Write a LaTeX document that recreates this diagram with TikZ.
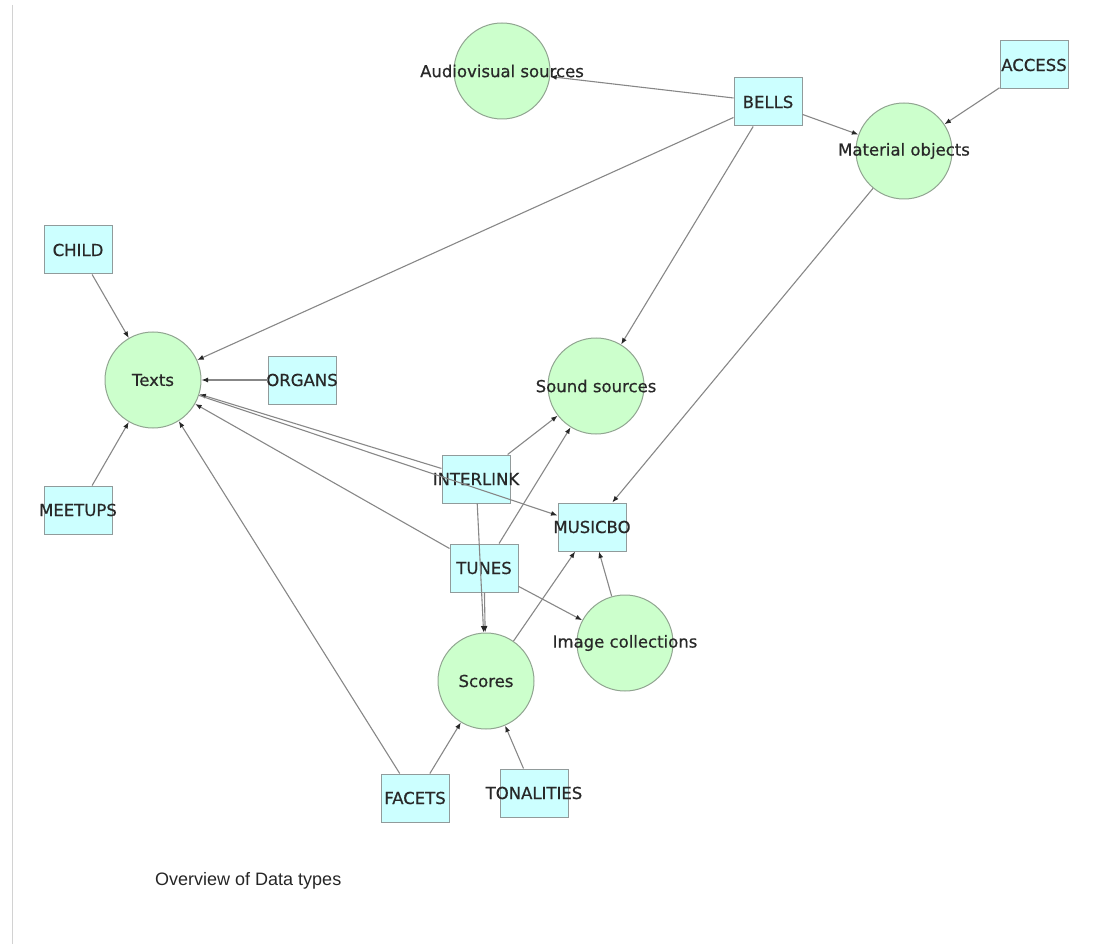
\documentclass[tikz,border=0pt]{standalone}
\usepackage{fontspec}
\setmainfont{DejaVu Sans}[FakeBold=0.6]
\newfontfamily\labfont{DejaVu Sans}[FakeBold=0.6]
\newfontfamily\captfont{Liberation Sans}
\usetikzlibrary{arrows.meta}
\definecolor{cfill}{RGB}{204,255,204}
\definecolor{cdraw}{RGB}{145,165,145}
\definecolor{rfill}{RGB}{204,255,255}
\definecolor{rdraw}{RGB}{145,155,155}
\definecolor{edgecol}{RGB}{135,135,135}
\definecolor{headcol}{RGB}{40,40,40}
\definecolor{txtcol}{RGB}{40,40,40}
\definecolor{bordercol}{RGB}{210,210,210}
\tikzset{
  dtype/.style={circle, minimum size=96pt, inner sep=0pt, fill=cfill, draw=cdraw, line width=1pt},
  dset/.style={rectangle, minimum width=68pt, minimum height=48pt, inner sep=0pt, fill=rfill, draw=rdraw, line width=1pt},
  lab/.style={text=txtcol, font=\labfont\fontsize{16.5}{19}\selectfont, inner sep=0pt},
  every label/.style={lab},
  link/.style={draw=edgecol, line width=1.1pt, -{Latex[length=6.5pt,width=5pt,fill=headcol,color=headcol]}},
}
\begin{document}
\begin{tikzpicture}[x=1pt,y=-1pt]
\useasboundingbox (0,0) rectangle (1110,949);
\draw[bordercol, line width=1pt] (12,5) -- (12,944);
% data types (circles)
\node[dtype, label={center:Audiovisual sources}] (av) at (502,71) {};
\node[dtype, label={center:Material objects}] (mo) at (904,151) {};
\node[dtype, label={center:Texts}] (tx) at (153,380) {};
\node[dtype, label={center:Sound sources}] (ss) at (596,386) {};
\node[dtype, label={center:Image collections}] (ic) at (625,643) {};
\node[dtype, label={center:Scores}] (sc) at (486,681) {};
% data sets (rectangles)
\node[dset, label={center:BELLS}] (bells) at (768,102) {};
\node[dset, label={center:ACCESS}] (access) at (1034,65) {};
\node[dset, label={center:CHILD}] (child) at (78,250) {};
\node[dset, label={center:ORGANS}] (organs) at (302,380) {};
\node[dset, label={center:MEETUPS}] (meetups) at (78,510) {};
\node[dset, label={center:INTERLINK}] (interlink) at (476,479) {};
\node[dset, label={center:MUSICBO}] (musicbo) at (592,527) {};
\node[dset, label={center:TUNES}] (tunes) at (484,568) {};
\node[dset, label={center:FACETS}] (facets) at (415,798) {};
\node[dset, label={center:TONALITIES}] (tonal) at (534,793) {};
% connectors
\path[link] (bells) -- (av);
\path[link] (bells) -- (mo);
\path[link] (bells) -- (tx);
\path[link] (bells) -- (ss);
\path[link] (access) -- (mo);
\path[link] (mo) -- (musicbo);
\path[link] (child) -- (tx);
\path[link] (organs) -- (tx);
\path[link] (meetups) -- (tx);
\path[link] (interlink) -- (tx);
\path[link] (tx) -- (musicbo);
\path[link] (tunes) -- (tx);
\path[link] (facets) -- (tx);
\path[link] (facets) -- (sc);
\path[link] (tonal) -- (sc);
\path[link] (interlink) -- (ss);
\path[link] (interlink) -- (sc);
\path[link] (tunes) -- (sc);
\path[link] (tunes) -- (ss);
\path[link] (tunes) -- (ic);
\path[link] (sc) -- (musicbo);
\path[link] (ic) -- (musicbo);
\node[anchor=west, inner sep=0pt, text=black!85, font=\captfont\fontsize{18}{21}\selectfont] (caption) at (155,881) {Overview of Data types};
\end{tikzpicture}
\end{document}
